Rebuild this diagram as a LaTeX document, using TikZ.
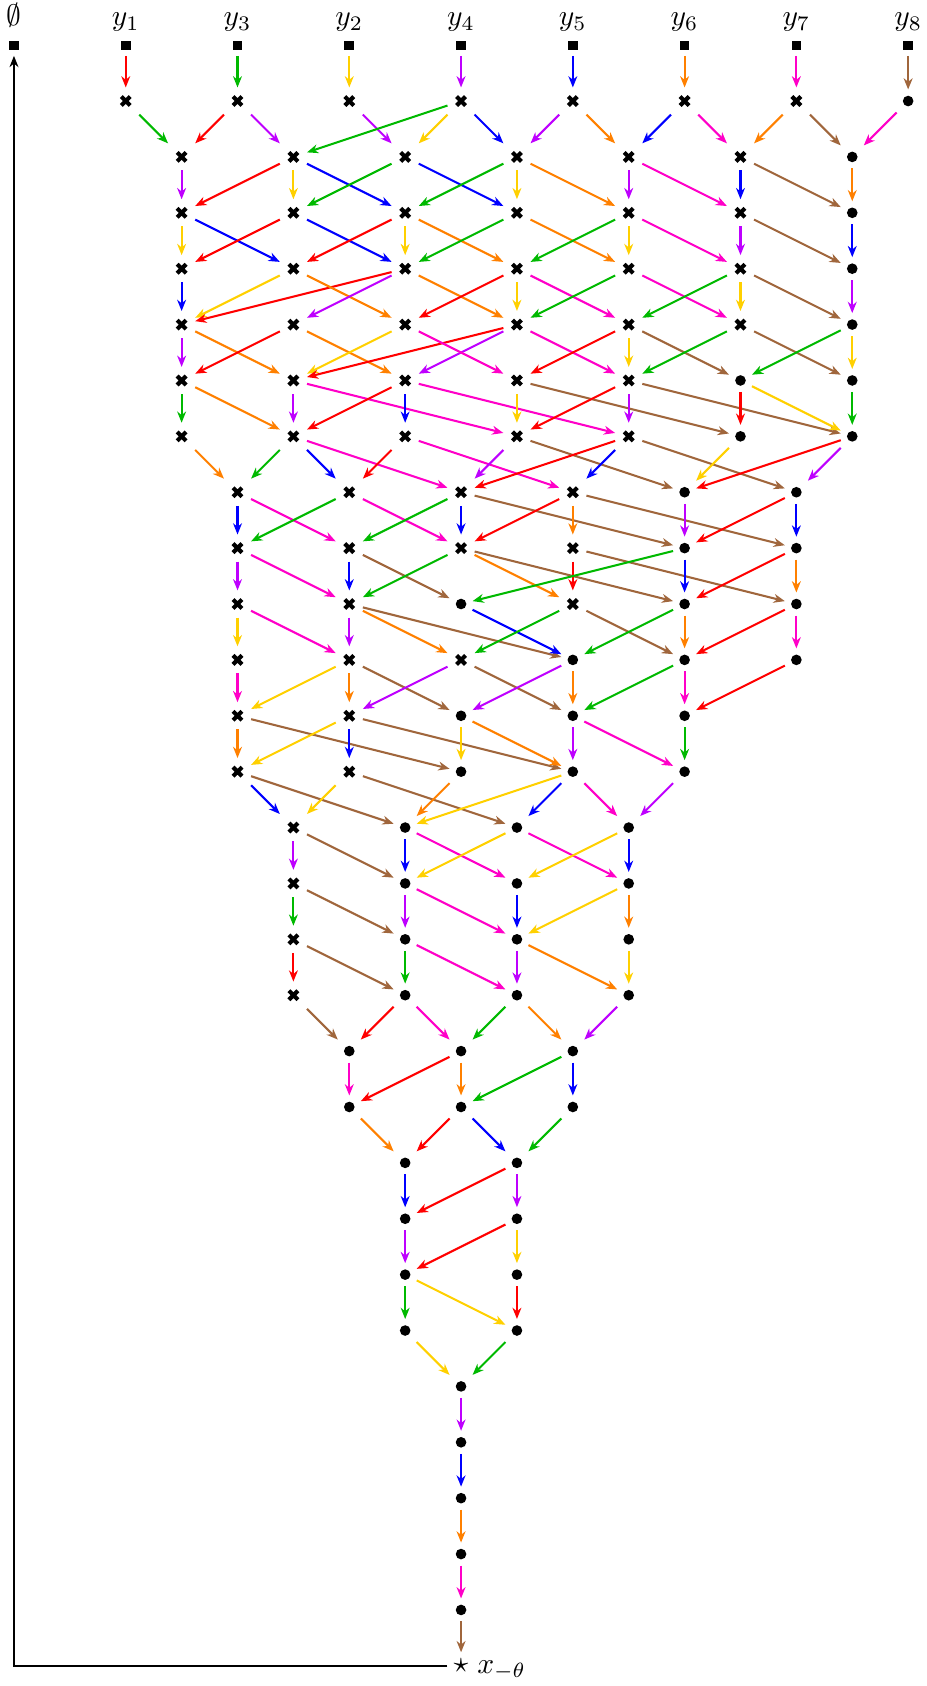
\documentclass[tikz,border=0pt]{standalone}
\usetikzlibrary{arrows.meta}
\definecolor{cR}{RGB}{255,0,0}
\definecolor{cG}{RGB}{0,185,0}
\definecolor{cY}{RGB}{255,208,0}
\definecolor{cP}{RGB}{190,0,255}
\definecolor{cB}{RGB}{0,0,255}
\definecolor{cO}{RGB}{255,128,0}
\definecolor{cM}{RGB}{255,0,200}
\definecolor{cN}{RGB}{160,102,60}
\begin{document}
\begin{tikzpicture}[x=0.665cm, y=0.665cm,
  ed/.style={line width=0.7pt, -{Stealth[length=3.8pt,width=3pt,inset=1.2pt]}},
  xn/.style={rectangle, inner sep=0pt, minimum size=0.309cm},
  dn/.style={rectangle, inner sep=0pt, minimum size=0.26cm},
  sn/.style={rectangle, inner sep=0pt, minimum size=0.24cm},
  xm/.style={line width=1.4pt},
  lab/.style={anchor=base, inner sep=0pt},
  blk/.style={line width=0.8pt, -{Stealth[length=3.8pt,width=3pt,inset=1.2pt]}}
]
\useasboundingbox (-0.25,0.808) rectangle (16.327,-29.361);
% top row
\foreach \c/\t in {0/\emptyset,2/y_1,4/y_3,6/y_2,8/y_4,10/y_5,12/y_6,14/y_7,16/y_8} {
  \node[sn] (n\c-0) at (\c,0) {};
  \fill (\c-0.087,-0.083) rectangle (\c+0.087,0.083);
  \node[lab] (L\c) at (\c,0.35) {$\t$};
}
% cross nodes
\foreach \r/\cs in {1/{2,4,6,8,10,12,14}, 2/{3,5,7,9,11,13}, 3/{3,5,7,9,11,13}, 4/{3,5,7,9,11,13}, 5/{3,5,7,9,11,13}, 6/{3,5,7,9,11}, 7/{3,5,7,9,11}, 8/{4,6,8,10}, 9/{4,6,8,10}, 10/{4,6,10}, 11/{4,6,8}, 12/{4,6}, 13/{4,6}, 14/{5}, 15/{5}, 16/{5}, 17/{5}} {
  \foreach \c in \cs {
    \node[xn] (n\c-\r) at (\c,-\r) {};
    \draw[xm] (\c-0.08,-\r-0.08) -- (\c+0.08,-\r+0.08) (\c-0.08,-\r+0.08) -- (\c+0.08,-\r-0.08);
  }
}
% dot nodes
\foreach \r/\cs in {1/{16}, 2/{15}, 3/{15}, 4/{15}, 5/{15}, 6/{13,15}, 7/{13,15}, 8/{12,14}, 9/{12,14}, 10/{8,12,14}, 11/{10,12,14}, 12/{8,10,12}, 13/{8,10,12}, 14/{7,9,11}, 15/{7,9,11}, 16/{7,9,11}, 17/{7,9,11}, 18/{6,8,10}, 19/{6,8,10}, 20/{7,9}, 21/{7,9}, 22/{7,9}, 23/{7,9}, 24/{8}, 25/{8}, 26/{8}, 27/{8}, 28/{8}} {
  \foreach \c in \cs {
    \node[dn] (n\c-\r) at (\c,-\r) {};
    \fill (\c,-\r) circle (0.095);
  }
}
% star
\node[xn] (n8-29) at (8,-29) {$\star$};
\node[anchor=base west, inner sep=0pt] (xl) at (8.28,-29.13) {$x_{-\theta}$};
% edges
\foreach \a/\b/\k in {
2-0/2-1/cR, 4-0/4-1/cG, 6-0/6-1/cY, 8-0/8-1/cP, 10-0/10-1/cB, 12-0/12-1/cO, 14-0/14-1/cM, 16-0/16-1/cN,
2-1/3-2/cG, 4-1/3-2/cR, 4-1/5-2/cP, 6-1/7-2/cP, 8-1/5-2/cG, 8-1/7-2/cY, 8-1/9-2/cB, 10-1/9-2/cP, 10-1/11-2/cO, 12-1/11-2/cB, 12-1/13-2/cM, 14-1/13-2/cO, 14-1/15-2/cN, 16-1/15-2/cM,
3-2/3-3/cP, 5-2/3-3/cR, 5-2/5-3/cY, 5-2/7-3/cB, 7-2/5-3/cG, 7-2/9-3/cB, 9-2/7-3/cG, 9-2/9-3/cY, 9-2/11-3/cO, 11-2/11-3/cP, 11-2/13-3/cM, 13-2/13-3/cB, 13-2/15-3/cN, 15-2/15-3/cO,
3-3/3-4/cY, 3-3/5-4/cB, 5-3/3-4/cR, 5-3/7-4/cB, 7-3/5-4/cR, 7-3/7-4/cY, 7-3/9-4/cO, 9-3/7-4/cG, 9-3/11-4/cO, 11-3/9-4/cG, 11-3/11-4/cY, 11-3/13-4/cM, 13-3/13-4/cP, 13-3/15-4/cN, 15-3/15-4/cB,
3-4/3-5/cB, 5-4/3-5/cY, 7-4/3-5/cR, 5-4/7-5/cO, 7-4/5-5/cP, 7-4/9-5/cO, 9-4/7-5/cR, 9-4/9-5/cY, 9-4/11-5/cM, 11-4/9-5/cG, 11-4/13-5/cM, 13-4/11-5/cG, 13-4/13-5/cY, 13-4/15-5/cN, 15-4/15-5/cP,
3-5/3-6/cP, 3-5/5-6/cO, 5-5/3-6/cR, 5-5/7-6/cO, 7-5/5-6/cY, 9-5/5-6/cR, 9-5/7-6/cP, 7-5/9-6/cM, 9-5/11-6/cM, 11-5/9-6/cR, 11-5/11-6/cY, 11-5/13-6/cN, 13-5/11-6/cG, 13-5/15-6/cN, 15-5/13-6/cG, 15-5/15-6/cY,
3-6/3-7/cG, 3-6/5-7/cO, 5-6/5-7/cP, 5-6/9-7/cM, 7-6/5-7/cR, 7-6/7-7/cB, 7-6/11-7/cM, 9-6/9-7/cY, 9-6/13-7/cN, 11-6/9-7/cR, 11-6/11-7/cP, 11-6/15-7/cN, 13-6/13-7/cR, 13-6/15-7/cY, 15-6/15-7/cG,
3-7/4-8/cO, 5-7/4-8/cG, 5-7/6-8/cB, 5-7/8-8/cM, 7-7/6-8/cR, 7-7/10-8/cM, 9-7/8-8/cP, 9-7/12-8/cN, 11-7/8-8/cR, 11-7/10-8/cB, 11-7/14-8/cN, 13-7/12-8/cY, 15-7/12-8/cR, 15-7/14-8/cP,
4-8/4-9/cB, 4-8/6-9/cM, 6-8/4-9/cG, 6-8/8-9/cM, 8-8/6-9/cG, 8-8/8-9/cB, 8-8/12-9/cN, 10-8/8-9/cR, 10-8/10-9/cO, 10-8/14-9/cN, 12-8/12-9/cP, 14-8/12-9/cR, 14-8/14-9/cB,
4-9/4-10/cP, 4-9/6-10/cM, 6-9/6-10/cB, 6-9/8-10/cN, 8-9/6-10/cG, 8-9/10-10/cO, 8-9/12-10/cN, 10-9/10-10/cR, 10-9/14-10/cN, 12-9/8-10/cG, 12-9/12-10/cB, 14-9/12-10/cR, 14-9/14-10/cO,
4-10/4-11/cY, 4-10/6-11/cM, 6-10/6-11/cP, 6-10/8-11/cO, 6-10/10-11/cN, 8-10/10-11/cB, 10-10/8-11/cG, 10-10/12-11/cN, 12-10/10-11/cG, 12-10/12-11/cO, 14-10/12-11/cR, 14-10/14-11/cM,
4-11/4-12/cM, 6-11/4-12/cY, 6-11/6-12/cO, 6-11/8-12/cN, 8-11/6-12/cP, 8-11/10-12/cN, 10-11/8-12/cP, 10-11/10-12/cO, 12-11/10-12/cG, 12-11/12-12/cM, 14-11/12-12/cR,
4-12/4-13/cO, 4-12/8-13/cN, 6-12/4-13/cY, 6-12/6-13/cB, 6-12/10-13/cN, 8-12/8-13/cY, 8-12/10-13/cO, 10-12/10-13/cP, 10-12/12-13/cM, 12-12/12-13/cG,
4-13/5-14/cB, 4-13/7-14/cN, 6-13/5-14/cY, 6-13/9-14/cN, 8-13/7-14/cO, 10-13/7-14/cY, 10-13/9-14/cB, 10-13/11-14/cM, 12-13/11-14/cP,
5-14/5-15/cP, 5-14/7-15/cN, 7-14/7-15/cB, 7-14/9-15/cM, 9-14/7-15/cY, 9-14/11-15/cM, 11-14/9-15/cY, 11-14/11-15/cB,
5-15/5-16/cG, 5-15/7-16/cN, 7-15/7-16/cP, 7-15/9-16/cM, 9-15/9-16/cB, 11-15/9-16/cY, 11-15/11-16/cO,
5-16/5-17/cR, 5-16/7-17/cN, 7-16/7-17/cG, 7-16/9-17/cM, 9-16/9-17/cP, 9-16/11-17/cO, 11-16/11-17/cY,
5-17/6-18/cN, 7-17/6-18/cR, 7-17/8-18/cM, 9-17/8-18/cG, 9-17/10-18/cO, 11-17/10-18/cP,
6-18/6-19/cM, 8-18/6-19/cR, 8-18/8-19/cO, 10-18/8-19/cG, 10-18/10-19/cB,
6-19/7-20/cO, 8-19/7-20/cR, 8-19/9-20/cB, 10-19/9-20/cG,
7-20/7-21/cB, 9-20/7-21/cR, 9-20/9-21/cP,
7-21/7-22/cP, 9-21/7-22/cR, 9-21/9-22/cY,
7-22/7-23/cG, 7-22/9-23/cY, 9-22/9-23/cR,
7-23/8-24/cY, 9-23/8-24/cG,
8-24/8-25/cP, 8-25/8-26/cB, 8-26/8-27/cO, 8-27/8-28/cM, 8-28/8-29/cN}
  \draw[ed, color=\k] (n\a) -- (n\b);
% return line
\draw[blk] (n8-29) -| (n0-0);
\end{tikzpicture}
\end{document}
